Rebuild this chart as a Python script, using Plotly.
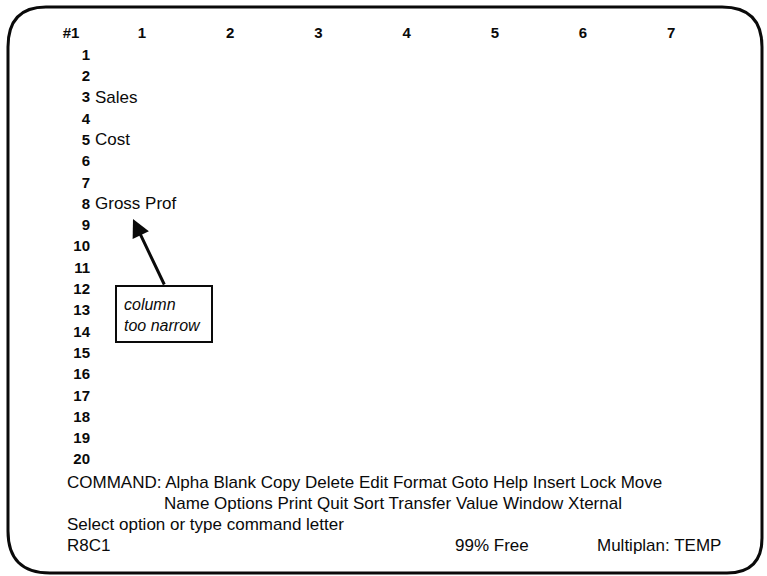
import plotly.graph_objects as go

# ---------------- data ----------------
corner_label = "#1"
col_numbers = [1, 2, 3, 4, 5, 6, 7]
row_numbers = list(range(1, 21))
label_rows = [3, 5, 8]
label_texts = ["Sales", "Cost", "Gross Prof"]
callout_lines = ["column", "too narrow"]
command_line_1 = "COMMAND: Alpha Blank Copy Delete Edit Format Goto Help Insert Lock Move"
command_line_2 = "Name Options Print Quit Sort Transfer Value Window Xternal"
message_line = "Select option or type command letter"
status_cell = "R8C1"
status_free = "99% Free"
status_file = "Multiplan: TEMP"

# ---------------- geometry (pixels -> axis units) ----------------
W, H = 767, 576
COL0, COLW = 142.0, 88.2     # pixel centre of column 1, column width
ROW0, ROWH = 34.7, 21.3      # pixel of row 0 (header), row height


def cx(px):
    return 1 + (px - COL0) / COLW


def ry(py):
    return (py - ROW0) / ROWH


def pp(x, y):
    return f"{x / W:.5f},{1 - y / H:.5f}"


INK = "#0a0a0a"
FONT = "Liberation Sans"

fig = go.Figure()

# column headers
fig.add_trace(go.Scatter(
    x=[cx(71)] + col_numbers, y=[0] * (len(col_numbers) + 1),
    mode="text", text=[corner_label] + [str(c) for c in col_numbers],
    textposition="middle center",
    textfont=dict(family=FONT, size=15, color=INK, weight="bold"),
    hoverinfo="skip", showlegend=False))

# row numbers (right aligned)
fig.add_trace(go.Scatter(
    x=[cx(90)] * len(row_numbers), y=row_numbers,
    mode="text", text=[str(r) for r in row_numbers],
    textposition="middle left",
    textfont=dict(family=FONT, size=15, color=INK, weight="bold"),
    hoverinfo="skip", showlegend=False))

# cell labels
fig.add_trace(go.Scatter(
    x=[cx(95)] * len(label_rows), y=label_rows,
    mode="text", text=label_texts,
    textposition="middle right",
    textfont=dict(family=FONT, size=17, color=INK),
    hoverinfo="skip", showlegend=False))


# text lines at bottom
def add_text(txt, px, row, anchor="left", size=17):
    fig.add_annotation(x=cx(px), y=row, text=txt, showarrow=False,
                       xanchor=anchor, yanchor="middle",
                       font=dict(family=FONT, size=size, color=INK))


add_text(command_line_1, 65, 21)
add_text(command_line_2, 162, 22)
add_text(message_line, 65, 23)
add_text(status_cell, 65, 24)
add_text(status_free, 453, 24)
add_text(status_file, 595, 24)

# callout box
fig.add_shape(type="rect", x0=cx(116), x1=cx(212), y0=ry(286), y1=ry(342),
              line=dict(color=INK, width=2), fillcolor="white")
for i, line in enumerate(callout_lines):
    fig.add_annotation(x=cx(122), y=ry(304 + 21 * i), text=f"<i>{line}</i>",
                       showarrow=False, xanchor="left", yanchor="middle",
                       font=dict(family=FONT, size=16, color=INK))

# arrow
fig.add_annotation(x=cx(133), y=ry(219), ax=cx(165), ay=ry(286),
                   xref="x", yref="y", axref="x", ayref="y",
                   showarrow=True, arrowhead=2, arrowsize=1.2, arrowwidth=3,
                   arrowcolor=INK, text="")

# rounded screen border
path = (f"M {pp(46, 7)} L {pp(722, 7)} Q {pp(762, 7)} {pp(762, 47)} "
        f"L {pp(762, 538)} Q {pp(762, 573)} {pp(727, 573)} "
        f"L {pp(50, 573)} Q {pp(8, 573)} {pp(8, 531)} "
        f"L {pp(8, 47)} Q {pp(8, 7)} {pp(46, 7)} Z")
fig.add_shape(type="path", path=path, xref="paper", yref="paper",
              line=dict(color=INK, width=3))

fig.update_layout(
    width=W, height=H, margin=dict(l=0, r=0, t=0, b=0),
    paper_bgcolor="white", plot_bgcolor="white",
    xaxis=dict(range=[cx(0), cx(W)], visible=False, fixedrange=True),
    yaxis=dict(range=[ry(H), ry(0)], visible=False, fixedrange=True),
)

fig.write_html(
    "out.html",
    config={"displayModeBar": False, "staticPlot": True},
    post_script="document.body.style.margin='0';document.body.style.overflow='hidden';",
)
